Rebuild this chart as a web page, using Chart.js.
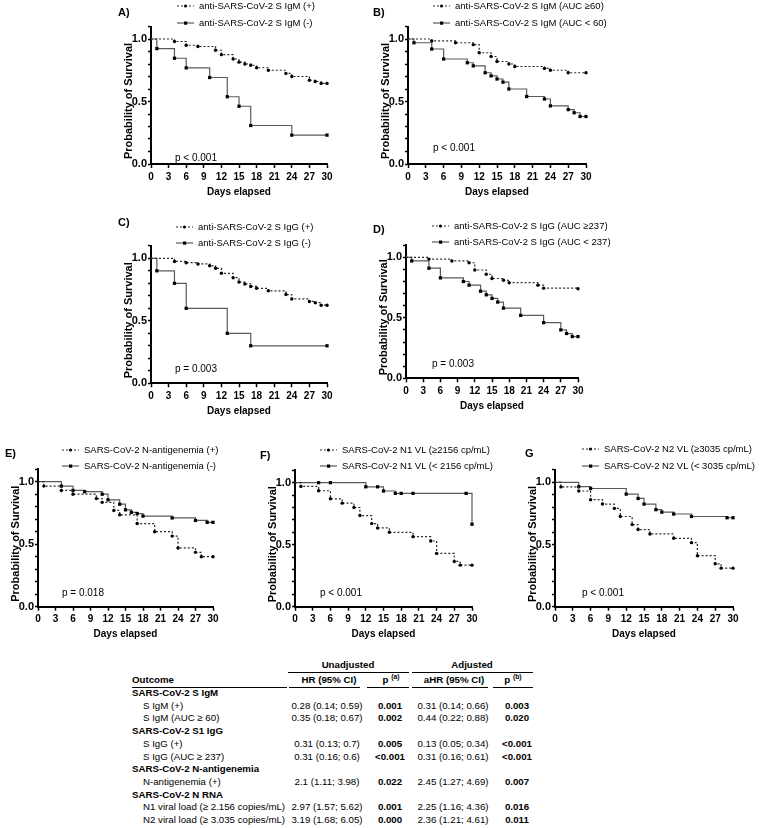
<!DOCTYPE html>
<html><head><meta charset="utf-8">
<script src="https://cdn.jsdelivr.net/npm/chart.js@4.4.0/dist/chart.umd.min.js"></script>
<style>
html,body{margin:0;padding:0;background:#fff;}
#fig{position:relative;width:760px;height:828px;overflow:hidden;background:#fff;font-family:"Liberation Sans",Arial,Helvetica,sans-serif;color:#000;}
#fig canvas{position:absolute;}
.t{position:absolute;white-space:nowrap;}
.ln{position:absolute;height:0;border-top:1px solid #000;}
sup{font-size:70%;vertical-align:4px;line-height:0;}
</style></head><body><div id="fig"></div>
<script>
// ---------- DATA ----------
const xTickValues = [0,3,6,9,12,15,18,21,24,27,30];
const yTickValues = [0,0.1,0.2,0.3,0.4,0.5,0.6,0.7,0.8,0.9,1.0,1.1];
const yMajorValues = [0,0.5,1.0];
const yMajorLabels = ["0.0","0.5","1.0"];

const aPosDays = [0,4,6,8,11,12,14,15,16,17,18,20,23,24,27,28,29,30];
const aPosSurv = [1,0.98,0.95,0.94,0.91,0.875,0.84,0.815,0.80,0.79,0.77,0.75,0.725,0.70,0.67,0.66,0.645,0.645];
const aNegDays = [0,1,4,6,10,13,15,17,24,30];
const aNegSurv = [1,0.923,0.846,0.769,0.692,0.538,0.462,0.308,0.231,0.231];

const bPosDays = [0,4,8,11,12,14,15,17,18,23,24,27,30];
const bPosSurv = [1,0.985,0.97,0.955,0.89,0.86,0.82,0.80,0.78,0.765,0.75,0.73,0.73];
const bNegDays = [0,1,4,6,10,11,13,14,15,16,17,20,23,24,27,28,29,30];
const bNegSurv = [1,0.97,0.92,0.84,0.81,0.785,0.73,0.705,0.68,0.655,0.60,0.54,0.52,0.465,0.435,0.41,0.38,0.38];

const cPosDays = [0,4,6,8,10,11,12,14,15,16,17,18,20,23,24,27,28,29,30];
const cPosSurv = [1,0.975,0.965,0.955,0.94,0.92,0.88,0.845,0.81,0.795,0.775,0.76,0.74,0.71,0.675,0.655,0.645,0.625,0.625];
const cNegDays = [0,1,4,6,13,17,30];
const cNegSurv = [1,0.9,0.8,0.6,0.4,0.3,0.3];

const dPosDays = [0,4,8,11,12,14,15,17,18,23,24,30];
const dPosSurv = [1,0.985,0.97,0.955,0.895,0.86,0.825,0.81,0.79,0.77,0.745,0.74];
const dNegDays = [0,1,4,6,10,11,13,14,15,16,17,20,24,27,28,29,30];
const dNegSurv = [1,0.97,0.91,0.83,0.80,0.77,0.72,0.69,0.66,0.63,0.58,0.52,0.46,0.40,0.37,0.345,0.345];

const ePosDays = [0,1,4,6,10,11,13,14,17,20,23,24,27,28,30];
const ePosSurv = [1,0.965,0.93,0.90,0.865,0.835,0.77,0.735,0.665,0.60,0.565,0.47,0.435,0.40,0.40];
const eNegDays = [0,4,6,8,11,12,14,15,16,17,18,23,27,29,30];
const eNegSurv = [1,0.965,0.93,0.92,0.90,0.855,0.82,0.775,0.755,0.745,0.725,0.71,0.69,0.675,0.675];

const fPosDays = [0,1,4,6,8,10,11,13,14,16,20,23,24,27,28,30];
const fPosSurv = [1,0.97,0.935,0.87,0.835,0.80,0.735,0.67,0.635,0.60,0.565,0.53,0.43,0.365,0.335,0.335];
const fNegDays = [0,4,6,12,14,15,17,18,20,29,30];
const fNegSurv = [1,1,1,0.967,0.967,0.933,0.914,0.914,0.914,0.914,0.665];

const gPosDays = [0,1,4,6,8,10,11,13,14,16,20,23,24,27,28,30];
const gPosSurv = [1,0.963,0.93,0.86,0.825,0.79,0.725,0.66,0.62,0.585,0.55,0.515,0.41,0.345,0.31,0.31];
const gNegDays = [0,4,6,12,14,15,17,18,20,23,29,30];
const gNegSurv = [1,0.965,0.95,0.905,0.87,0.825,0.78,0.76,0.745,0.725,0.715,0.715];

const legendA = ["anti-SARS-CoV-2 S IgM (+)","anti-SARS-CoV-2 S IgM (-)"];
const legendB = ["anti-SARS-CoV-2 S IgM (AUC \u226560)","anti-SARS-CoV-2 S IgM (AUC < 60)"];
const legendC = ["anti-SARS-CoV-2 S IgG (+)","anti-SARS-CoV-2 S IgG (-)"];
const legendD = ["anti-SARS-CoV-2 S IgG (AUC \u2265237)","anti-SARS-CoV-2 S IgG (AUC < 237)"];
const legendE = ["SARS-CoV-2 N-antigenemia (+)","SARS-CoV-2 N-antigenemia (-)"];
const legendF = ["SARS-CoV-2 N1 VL (\u22652156 cp/mL)","SARS-CoV-2 N1 VL (< 2156 cp/mL)"];
const legendG = ["SARS-CoV-2 N2 VL (\u22653035 cp/mL)","SARS-CoV-2 N2 VL (< 3035 cp/mL)"];
const pValues = ["p < 0.001","p < 0.001","p = 0.003","p = 0.003","p = 0.018","p < 0.001","p < 0.001"];
const xTitleText = "Days elapsed";
const yTitleText = "Probability of Survival";

const tableOutcome = ["SARS-CoV-2 S IgM","S IgM (+)","S IgM (AUC \u2265 60)","SARS-CoV-2 S1 IgG","S IgG (+)","S IgG (AUC \u2265 237)","SARS-CoV-2 N-antigenemia","N-antigenemia (+)","SARS-CoV-2 N RNA","N1 viral load (\u2265 2.156 copies/mL)","N2 viral load (\u2265 3.035 copies/mL)"];
const tableIsGroup = [1,0,0,1,0,0,1,0,1,0,0];
const tableHR  = ["","0.28 (0.14; 0.59)","0.35 (0.18; 0.67)","","0.31 (0.13; 0.7)","0.31 (0.16; 0.6)","","2.1 (1.11; 3.98)","","2.97 (1.57; 5.62)","3.19 (1.68; 6.05)"];
const tablePa  = ["","0.001","0.002","","0.005","<0.001","","0.022","","0.001","0.000"];
const tableAHR = ["","0.31 (0.14; 0.66)","0.44 (0.22; 0.88)","","0.13 (0.05; 0.34)","0.31 (0.16; 0.61)","","2.45 (1.27; 4.69)","","2.25 (1.16; 4.36)","2.36 (1.21; 4.61)"];
const tablePb  = ["","0.003","0.020","","<0.001","<0.001","","0.007","","0.016","0.011"];

// ---------- LAYOUT ----------
const FONT = '"Liberation Sans", Arial, Helvetica, sans-serif';
const fig = document.getElementById('fig');

const panels = [
 {letter:'A)', lx:118, ly:12,  L:151, R:327, y1:39,  y0:164, symX:177, legY:[6,23],  pX:175, pY:157, pos:[aPosDays,aPosSurv], neg:[aNegDays,aNegSurv], leg:legendA},
 {letter:'B)', lx:373, ly:12,  L:408, R:586, y1:39,  y0:164, symX:433, legY:[6,23],  pX:433, pY:147, pos:[bPosDays,bPosSurv], neg:[bNegDays,bNegSurv], leg:legendB},
 {letter:'C)', lx:118, ly:222, L:151, R:327, y1:258.3, y0:383.3, symX:176, legY:[227,243], pX:175, pY:368, pos:[cPosDays,cPosSurv], neg:[cNegDays,cNegSurv], leg:legendC},
 {letter:'D)', lx:373, ly:229, L:406, R:578, y1:257.3, y0:378.3, symX:432, legY:[226,242], pX:432, pY:363, pos:[dPosDays,dPosSurv], neg:[dNegDays,dNegSurv], leg:legendD},
 {letter:'E)', lx:5,   ly:453, L:38,  R:213, y1:481.7, y0:606.7, symX:62,  legY:[450,466], pX:62,  pY:592, pos:[ePosDays,ePosSurv], neg:[eNegDays,eNegSurv], leg:legendE},
 {letter:'F)', lx:260, ly:455, L:295, R:472, y1:482.7, y0:606.7, symX:320, legY:[450,466], pX:320, pY:592, pos:[fPosDays,fPosSurv], neg:[fNegDays,fNegSurv], leg:legendF},
 {letter:'G',  lx:525, ly:453, L:555, R:733, y1:482.3, y0:606.7, symX:582, legY:[449,466], pX:582, pY:592, pos:[gPosDays,gPosSurv], neg:[gNegDays,gNegSurv], leg:legendG}
];

function text(str, x, yc, size, bold, opts) {
  const d = document.createElement('div');
  d.className = 't';
  const lh = Math.round(size*1.25);
  d.style.fontSize = size+'px';
  d.style.lineHeight = lh+'px';
  d.style.top = (yc - lh/2)+'px';
  if (bold) d.style.fontWeight = 'bold';
  if (opts && opts.center) { d.style.left=(x-80)+'px'; d.style.width='160px'; d.style.textAlign='center'; }
  else d.style.left = x+'px';
  if (opts && opts.html) d.innerHTML = str; else d.textContent = str;
  fig.appendChild(d);
  return d;
}
function hline(x1, x2, y) {
  const d = document.createElement('div');
  d.className = 'ln';
  d.style.left = x1+'px'; d.style.width = (x2-x1)+'px'; d.style.top = (y-0.5)+'px';
  fig.appendChild(d);
}
function legendSymbol(x, yc, dashed) {
  const ns = 'http://www.w3.org/2000/svg';
  const s = document.createElementNS(ns,'svg');
  s.setAttribute('width','18'); s.setAttribute('height','8');
  s.style.position='absolute'; s.style.left=x+'px'; s.style.top=(yc-4)+'px';
  const l = document.createElementNS(ns,'line');
  l.setAttribute('x1','0'); l.setAttribute('x2','17'); l.setAttribute('y1','4'); l.setAttribute('y2','4');
  l.setAttribute('stroke', dashed ? '#2a2a2a' : '#5a5a5a'); l.setAttribute('stroke-width','1.2');
  if (dashed) l.setAttribute('stroke-dasharray','2 2');
  s.appendChild(l);
  if (dashed) {
    const c = document.createElementNS(ns,'circle');
    c.setAttribute('cx','8.5'); c.setAttribute('cy','4'); c.setAttribute('r','1.6'); c.setAttribute('fill','#000');
    s.appendChild(c);
  } else {
    const r = document.createElementNS(ns,'rect');
    r.setAttribute('x','7'); r.setAttribute('y','2.5'); r.setAttribute('width','3.2'); r.setAttribute('height','3.2'); r.setAttribute('fill','#000');
    s.appendChild(r);
  }
  fig.appendChild(s);
}
const toXY = (d, s) => d.map((v,i)=>({x:v, y:s[i]}));

// y-axis title, centred on the 0..1 span of the library's own y scale
const yTitlePlugin = {
  id:'ytitle',
  afterDraw(chart, args, opts) {
    const {ctx, chartArea, scales:{y}} = chart;
    const yc = (y.getPixelForValue(0) + y.getPixelForValue(1)) / 2 - 0.5;
    ctx.save();
    ctx.translate(chartArea.left - 22, yc);
    ctx.rotate(-Math.PI/2);
    ctx.font = 'bold 11px ' + FONT;
    ctx.fillStyle = '#000';
    ctx.textAlign = 'center';
    ctx.textBaseline = 'middle';
    ctx.fillText(opts.text, 0, 0);
    ctx.restore();
  }
};

function makePanel(p, idx) {
  const Y_W = 50, X_H = 34;
  const T = p.y0 - 1.1*(p.y0 - p.y1);
  const cl = Math.floor(p.L) - Y_W;
  const ct = Math.floor(T) - 10;
  const w = Math.ceil(p.R) + 14 - cl;
  const h = Math.ceil(p.y0 + X_H) - ct;
  const pad = {left: p.L - Y_W - cl, top: T - ct, right: w - (p.R - cl), bottom: h - (p.y0 + X_H - ct)};
  const cv = document.createElement('canvas');
  cv.width = w; cv.height = h;
  cv.style.left = cl+'px'; cv.style.top = ct+'px';
  cv.style.width = w+'px'; cv.style.height = h+'px';
  fig.appendChild(cv);
  new Chart(cv, {
    type:'line',
    plugins:[yTitlePlugin],
    data:{datasets:[
      {label:p.leg[0], data:toXY(p.pos[0],p.pos[1]), borderColor:'#2a2a2a', borderWidth:1.2, borderDash:[2,2],
       stepped:'before', pointStyle:'circle', pointRadius:c=>c.dataIndex===0?0:1.7, pointBackgroundColor:'#000',
       pointBorderWidth:0, clip:false, fill:false},
      {label:p.leg[1], data:toXY(p.neg[0],p.neg[1]), borderColor:'#5a5a5a', borderWidth:1.2,
       stepped:'before', pointStyle:'rect', pointRadius:c=>c.dataIndex===0?0:2.3, pointBackgroundColor:'#000',
       pointBorderWidth:0, clip:false, fill:false}
    ]},
    options:{
      responsive:false, animation:false, devicePixelRatio:1, events:[],
      layout:{padding:pad},
      plugins:{legend:{display:false}, tooltip:{enabled:false}, ytitle:{text:yTitleText}},
      scales:{
        x:{type:'linear', min:0, max:30,
           afterBuildTicks:s=>{ s.ticks = xTickValues.map(v=>({value:v})); },
           afterFit:s=>{ s.height = X_H; },
           grid:{drawOnChartArea:false, drawTicks:true, tickLength:4, tickWidth:1.5, tickColor:'#000'},
           border:{display:true, color:'#000', width:2},
           ticks:{color:'#000', font:{family:FONT, size:10, weight:'bold'}, padding:3, maxRotation:0, autoSkip:false},
           title:{display:true, text:xTitleText, color:'#000', font:{family:FONT, size:10, weight:'bold'}, padding:{top:0,bottom:0}}},
        y:{type:'linear', min:0, max:1.1,
           afterBuildTicks:s=>{ s.ticks = yTickValues.map(v=>({value:v})); },
           afterFit:s=>{ s.width = Y_W; },
           grid:{drawOnChartArea:false, drawTicks:true, tickLength:3, tickWidth:1.3, tickColor:'#000'},
           border:{display:true, color:'#000', width:2},
           ticks:{color:'#000', font:{family:FONT, size:11, weight:'bold'}, padding:1, autoSkip:false,
                  callback:v=>{ const i = yMajorValues.findIndex(m=>Math.abs(m-v)<1e-6); return i>=0 ? yMajorLabels[i] : ''; }},
           title:{display:false}}
      }
    }
  });
  text(p.letter, p.lx, p.ly, 11, true);
  legendSymbol(p.symX, p.legY[0], true);
  legendSymbol(p.symX, p.legY[1], false);
  text(p.leg[0], p.symX+22, p.legY[0], 9.5, false);
  text(p.leg[1], p.symX+22, p.legY[1], 9.5, false);
  text(pValues[idx], p.pX, p.pY, 10, false);
}
panels.forEach(makePanel);

// ---------- TABLE ----------
const TF = 9.7;
text('Unadjusted', 348, 665, TF, true, {center:true});
text('Adjusted', 472, 665, TF, true, {center:true});
hline(288, 409, 672); hline(412, 533, 672);
text('Outcome', 132, 680, TF, true);
text('HR (95% CI)', 329, 680, TF, true, {center:true});
text('p <sup>(a)</sup>', 391, 680, TF, true, {center:true, html:true});
text('aHR (95% CI)', 454, 680, TF, true, {center:true});
text('p <sup>(b)</sup>', 513, 680, TF, true, {center:true, html:true});
hline(132, 287, 687); hline(289, 360, 687); hline(367, 409, 687); hline(412, 488, 687); hline(493, 533, 687);
tableOutcome.forEach((o,i)=>{
  const y = 693 + i*12.7;
  const g = tableIsGroup[i]===1;
  text(o, g ? 132 : 143, y, TF, g);
  if (tableHR[i]) text(tableHR[i], 327, y, TF, false, {center:true});
  if (tablePa[i]) text(tablePa[i], 390, y, TF, true, {center:true});
  if (tableAHR[i]) text(tableAHR[i], 453, y, TF, false, {center:true});
  if (tablePb[i]) text(tablePb[i], 517, y, TF, true, {center:true});
});
</script>
</body></html>
